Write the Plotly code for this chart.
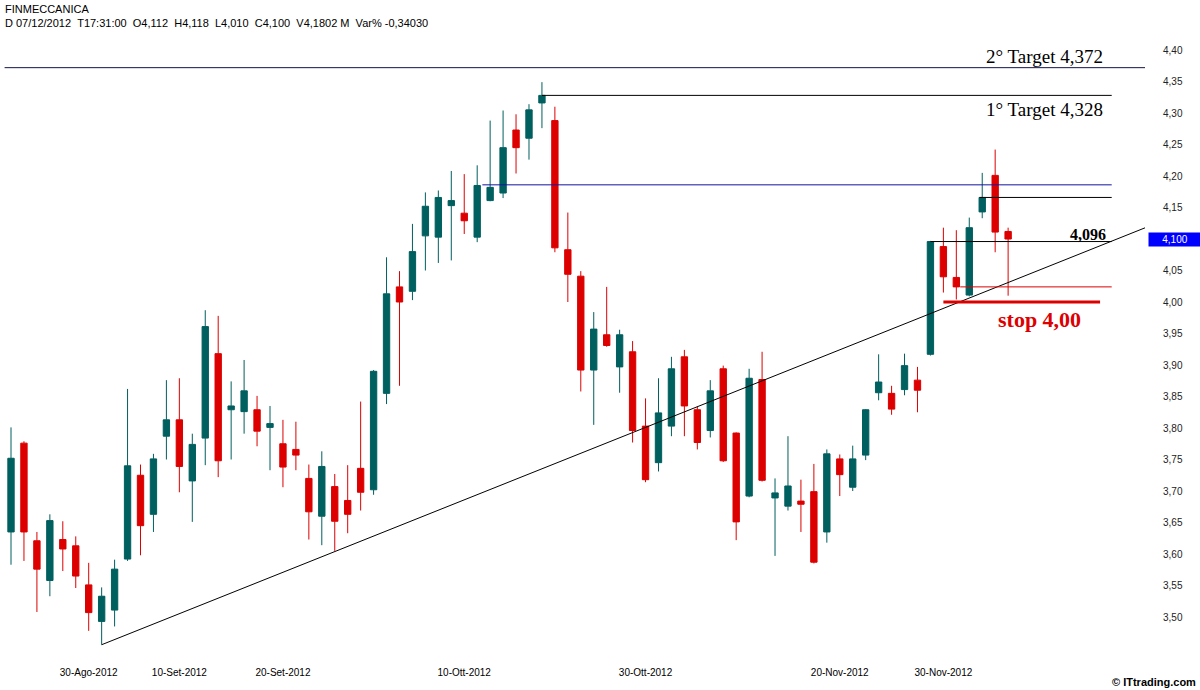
import pandas as pd
import plotly.graph_objects as go

# ---------------- data ----------------
dates = pd.bdate_range("2012-08-22", "2012-12-07")  # Borsa Italiana trading days (no holidays in range)
date_str = [d.strftime("%Y-%m-%d") for d in dates]

opens = [3.635, 3.776, 3.621, 3.558, 3.623, 3.613, 3.551, 3.493, 3.511, 3.592,
         3.725, 3.663, 3.787, 3.813, 3.716, 3.784, 3.918, 3.829, 3.826, 3.829,
         3.801, 3.775, 3.766, 3.720, 3.660, 3.707, 3.685, 3.736, 3.702, 3.855,
         4.024, 4.017, 4.105, 4.103, 4.153, 4.141, 4.103, 4.161, 4.173, 4.273,
         4.260, 4.316, 4.288, 4.083, 4.041, 3.892, 3.948, 3.897, 3.921, 3.803,
         3.745, 3.803, 3.913, 3.829, 3.796, 3.894, 3.792, 3.692, 3.877, 3.689,
         3.676, 3.684, 3.699, 3.635, 3.751, 3.706, 3.757, 3.856, 3.855, 3.861,
         3.876, 3.917, 4.088, 4.039, 4.011, 4.143, 4.201, 4.112]
highs = [3.801, 3.779, 3.635, 3.663, 3.652, 3.628, 3.586, 3.547, 3.591, 3.862,
         3.742, 3.759, 3.876, 3.879, 3.791, 3.987, 3.978, 3.874, 3.908, 3.851,
         3.835, 3.813, 3.810, 3.742, 3.763, 3.727, 3.741, 3.842, 3.892, 4.071,
         4.049, 4.124, 4.174, 4.177, 4.208, 4.203, 4.217, 4.288, 4.304, 4.298,
         4.314, 4.349, 4.310, 4.142, 4.049, 3.984, 4.024, 3.956, 3.938, 3.847,
         3.879, 3.913, 3.924, 3.834, 3.876, 3.899, 3.793, 3.894, 3.921, 3.720,
         3.787, 3.718, 3.743, 3.766, 3.758, 3.772, 3.830, 3.917, 3.867, 3.918,
         3.897, 4.097, 4.118, 4.114, 4.134, 4.205, 4.242, 4.118]
lows = [3.583, 3.589, 3.508, 3.533, 3.573, 3.546, 3.478, 3.456, 3.485, 3.589,
        3.598, 3.635, 3.750, 3.698, 3.651, 3.741, 3.722, 3.750, 3.791, 3.771,
        3.733, 3.706, 3.733, 3.623, 3.614, 3.605, 3.633, 3.669, 3.694, 3.838,
        3.867, 4.003, 4.050, 4.062, 4.066, 4.108, 4.095, 4.160, 4.165, 4.204,
        4.226, 4.276, 4.079, 4.000, 3.858, 3.805, 3.929, 3.856, 3.777, 3.714,
        3.731, 3.787, 3.787, 3.766, 3.785, 3.746, 3.622, 3.690, 3.715, 3.597,
        3.669, 3.635, 3.585, 3.618, 3.692, 3.700, 3.749, 3.844, 3.821, 3.852,
        3.825, 3.915, 4.015, 4.004, 4.009, 4.133, 4.079, 4.010]
closes = [3.752, 3.635, 3.576, 3.653, 3.608, 3.565, 3.507, 3.533, 3.576, 3.740,
          3.645, 3.751, 3.813, 3.739, 3.774, 3.961, 3.748, 3.835, 3.859, 3.795,
          3.807, 3.738, 3.757, 3.667, 3.739, 3.652, 3.663, 3.698, 3.890, 4.013,
          4.000, 4.080, 4.152, 4.166, 4.161, 4.129, 4.185, 4.182, 4.245, 4.245,
          4.305, 4.328, 4.086, 4.044, 3.892, 3.957, 3.931, 3.948, 3.796, 3.718,
          3.824, 3.894, 3.835, 3.777, 3.859, 3.748, 3.651, 3.879, 3.717, 3.697,
          3.708, 3.679, 3.587, 3.759, 3.726, 3.751, 3.829, 3.873, 3.830, 3.899,
          3.860, 4.096, 4.040, 4.024, 4.118, 4.166, 4.111, 4.100]

tick_dates = ["2012-08-30", "2012-09-10", "2012-09-20", "2012-10-10",
              "2012-10-30", "2012-11-20", "2012-11-30"]
tick_labels = ["30-Ago-2012", "10-Set-2012", "20-Set-2012", "10-Ott-2012",
               "30-Ott-2012", "20-Nov-2012", "30-Nov-2012"]
price_ticks = [3.50, 3.55, 3.60, 3.65, 3.70, 3.75, 3.80, 3.85, 3.90, 3.95,
               4.00, 4.05, 4.15, 4.20, 4.25, 4.30, 4.35, 4.40]

# analysis levels
target2 = 4.372
target1 = 4.328
blue_level = 4.186
black_level = 4.166
level_4096 = 4.096
red_level = 4.024
stop_level = 4.00
last_close = 4.100
# trendline anchors (index, price)
trend_x = [7, 87.6]
trend_y = [3.456, 4.118]

# ---------------- figure ----------------
TEAL = "#005F5F"
RED = "#DD0000"
x = list(range(len(date_str)))
tickvals = [date_str.index(d) for d in tick_dates]

fig = go.Figure()
fig.add_trace(go.Candlestick(
    x=x, open=opens, high=highs, low=lows, close=closes,
    increasing=dict(line=dict(color=TEAL, width=1), fillcolor=TEAL),
    decreasing=dict(line=dict(color=RED, width=1), fillcolor=RED),
    whiskerwidth=0, hoverinfo="skip"))

# trendline
fig.add_trace(go.Scatter(x=trend_x, y=trend_y, mode="lines",
                         line=dict(color="black", width=1), hoverinfo="skip"))

# horizontal levels
def hline(y, x0, x1, color, width=1, xref="x"):
    fig.add_shape(type="line", xref=xref, yref="y", x0=x0, x1=x1, y0=y, y1=y,
                  line=dict(color=color, width=width))

hline(target2, 0.004, 1.0, "#14144A", xref="paper")
hline(target1, 41, 85.0, "black")
hline(blue_level, 36.4, 85.0, "#1414A0")
hline(black_level, 74.8, 85.0, "black")
hline(level_4096, 71.0, 85.0, "black")
hline(red_level, 73.3, 85.0, RED)
hline(stop_level, 72.0, 84.1, RED, width=3)

SERIF = "Liberation Serif"
SANS = "Liberation Sans"
fig.add_annotation(x=84.5, y=target2, xref="x", yref="y", text="2° Target 4,372",
                   showarrow=False, xanchor="right", yanchor="bottom", yshift=-1,
                   font=dict(family=SERIF, size=19, color="black"))
fig.add_annotation(x=84.5, y=target1, xref="x", yref="y", text="1° Target 4,328",
                   showarrow=False, xanchor="right", yanchor="top", yshift=-2,
                   font=dict(family=SERIF, size=19, color="black"))
fig.add_annotation(x=84.75, y=level_4096, xref="x", yref="y", text="<b>4,096</b>",
                   showarrow=False, xanchor="right", yanchor="bottom", yshift=-3,
                   font=dict(family=SERIF, size=16, color="black"))
fig.add_annotation(x=79.4, y=stop_level, xref="x", yref="y", text="<b>stop 4,00</b>",
                   showarrow=False, xanchor="center", yanchor="top", yshift=-3,
                   font=dict(family=SERIF, size=22, color=RED))

# last price box
fig.add_annotation(x=1.0026, y=last_close, xref="paper", yref="y", text="4,100",
                   showarrow=False, xanchor="left", yanchor="middle",
                   width=50, height=11, bgcolor="#0000FF", borderpad=1,
                   font=dict(family=SANS, size=10, color="white"))

PLOT_H = 615
PLOT_W = 1145
def px(xp, yp):
    return xp / PLOT_W, (655 - yp) / PLOT_H

hx, hy = px(3, 9)
fig.add_annotation(x=hx, y=hy, xref="paper", yref="paper", text="FINMECCANICA",
                   showarrow=False, xanchor="left", yanchor="middle",
                   font=dict(family=SANS, size=11, color="black"))
hx, hy = px(3, 23)
fig.add_annotation(x=hx, y=hy, xref="paper", yref="paper",
                   text="D 07/12/2012&nbsp;&nbsp;T17:31:00&nbsp;&nbsp;O4,112&nbsp;&nbsp;H4,118&nbsp;&nbsp;L4,010&nbsp;&nbsp;C4,100&nbsp;&nbsp;V4,1802 M&nbsp;&nbsp;Var% -0,34030",
                   showarrow=False, xanchor="left", yanchor="middle",
                   font=dict(family=SANS, size=11, color="black"))
fx, fy = px(1198, 682)
fig.add_annotation(x=fx, y=fy, xref="paper", yref="paper", text="<b>© ITtrading.com</b>",
                   showarrow=False, xanchor="right", yanchor="middle",
                   font=dict(family=SANS, size=11, color="black"))

fig.update_layout(
    width=1200, height=690,
    margin=dict(l=0, r=55, t=40, b=35),
    plot_bgcolor="white", paper_bgcolor="white",
    showlegend=False, separators=",.",
    xaxis=dict(range=[-0.85, 87.57], tickvals=tickvals, ticktext=tick_labels,
               showgrid=False, zeroline=False, showline=False, ticks="",
               ticklabelstandoff=10, rangeslider=dict(visible=False),
               tickfont=dict(family=SANS, size=10, color="black")),
    yaxis=dict(side="right", range=[3.4397, 4.4159], tickvals=price_ticks,
               tickformat=".2f", showgrid=False, zeroline=False, showline=False,
               ticks="", ticklabelstandoff=17,
               tickfont=dict(family=SANS, size=10, color="#222222")),
)

fig.write_html("out.html", config={"displayModeBar": False},
               post_script="document.body.style.margin='0';document.body.style.overflow='hidden';")
